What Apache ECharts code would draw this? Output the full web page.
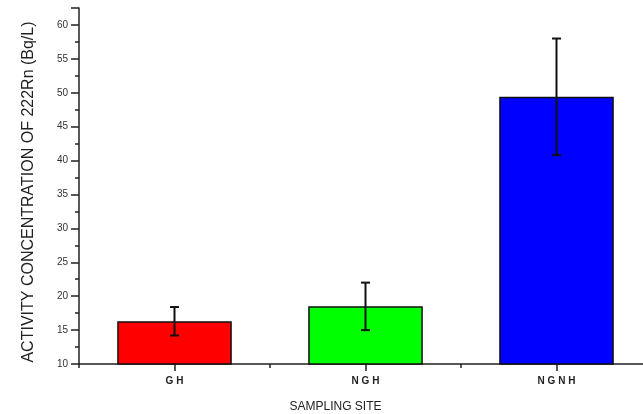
<!DOCTYPE html>
<html>
<head>
<meta charset="utf-8">
<script src="https://cdn.jsdelivr.net/npm/echarts@6/dist/echarts.min.js"></script>
<style>
  html, body { margin: 0; padding: 0; background: #fff; }
  #chart { width: 643px; height: 414px; }
</style>
</head>
<body>
<div id="chart"></div>
<script>
// Sampling sites and mean 222Rn activity concentration with its uncertainty
var sites = ['GH', 'NGH', 'NGNH'];
var activity = [16.3, 18.5, 49.4];
var uncertainty = [2.1, 3.5, 8.6];
var barColors = ['#ff0000', '#00ff00', '#0000ff'];
var yTicks = [10, 15, 20, 25, 30, 35, 40, 45, 50, 55, 60];

var chart = echarts.init(document.getElementById('chart'), null, { renderer: 'canvas' });

var spaced = function (s) { return s.split('').join(' '); };

chart.setOption({
  animation: false,
  grid: { left: 79, right: -9, top: 8, bottom: 50, containLabel: false, outerBoundsMode: 'none' },
  xAxis: [
    {
      type: 'category',
      data: sites,
      name: 'SAMPLING SITE',
      nameLocation: 'middle',
      nameGap: 37,
      nameTextStyle: {
        fontFamily: 'Liberation Sans, Arial, sans-serif',
        fontSize: 12,
        color: '#222',
        padding: [0, 0, 0, -60]
      },
      axisLine: { lineStyle: { color: '#222', width: 1.5 } },
      axisTick: { show: true, alignWithLabel: true, length: 7, inside: false, lineStyle: { color: '#222', width: 1.5 } },
      axisLabel: {
        formatter: spaced,
        margin: 12,
        fontFamily: 'Liberation Sans, Arial, sans-serif',
        fontSize: 10,
        fontWeight: 'bold',
        color: '#222'
      },
      splitLine: { show: false }
    },
    {
      // boundary ticks between categories
      type: 'category',
      data: sites,
      position: 'bottom',
      axisLine: { show: false },
      axisTick: { show: true, length: 4, lineStyle: { color: '#222', width: 1.5 } },
      axisLabel: { show: false },
      splitLine: { show: false }
    }
  ],
  yAxis: {
    type: 'value',
    min: 10,
    max: 62.5,
    interval: 5,
    name: 'ACTIVITY CONCENTRATION OF 222Rn (Bq/L)',
    nameLocation: 'middle',
    nameGap: 42,
    nameTextStyle: {
      fontFamily: 'Liberation Sans, Arial, sans-serif',
      fontSize: 16,
      color: '#222',
      padding: [0, 0, 0, -12]
    },
    axisLine: { show: true, lineStyle: { color: '#222', width: 1.5 } },
    axisTick: { show: true, length: 8, lineStyle: { color: '#222', width: 1.5 } },
    minorTick: { show: true, splitNumber: 2, length: 4, lineStyle: { color: '#222', width: 1.5 } },
    axisLabel: {
      margin: 11,
      fontFamily: 'Liberation Sans, Arial, sans-serif',
      fontSize: 10,
      color: '#333',
      formatter: function (v) { return yTicks.indexOf(v) >= 0 ? String(v) : ''; }
    },
    splitLine: { show: false }
  },
  series: [
    {
      type: 'bar',
      barWidth: '60%',
      data: activity.map(function (v, i) {
        return { value: v, itemStyle: { color: barColors[i] } };
      }),
      itemStyle: { borderColor: '#111', borderWidth: 1.5 },
      z: 2
    },
    {
      type: 'custom',
      z: 5,
      data: activity.map(function (v, i) { return [i, v - uncertainty[i], v + uncertainty[i]]; }),
      renderItem: function (params, api) {
        var lo = api.coord([api.value(0), api.value(1)]);
        var hi = api.coord([api.value(0), api.value(2)]);
        var cap = 4.5;
        var style = { stroke: '#111', lineWidth: 2 };
        return {
          type: 'group',
          children: [
            { type: 'line', shape: { x1: hi[0], y1: hi[1], x2: lo[0], y2: lo[1] }, style: style },
            { type: 'line', shape: { x1: hi[0] - cap, y1: hi[1], x2: hi[0] + cap, y2: hi[1] }, style: style },
            { type: 'line', shape: { x1: lo[0] - cap, y1: lo[1], x2: lo[0] + cap, y2: lo[1] }, style: style }
          ]
        };
      }
    }
  ]
});
</script>
</body>
</html>
